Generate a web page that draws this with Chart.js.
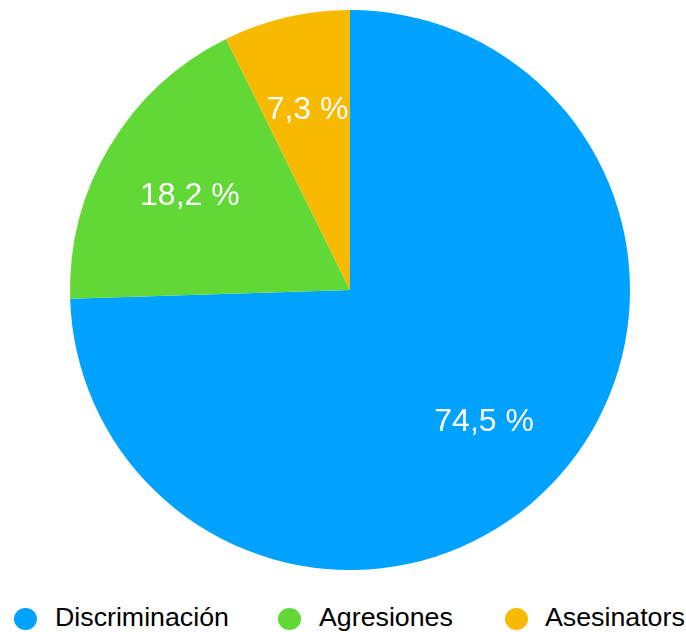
<!DOCTYPE html>
<html lang="es">
<head>
  <meta charset="UTF-8">
  <title>Distribución de casos</title>
  <script src="https://cdn.jsdelivr.net/npm/chart.js"></script>
  <style>
    body {
      margin: 0;
      background: #fff;
      font-family: "Liberation Sans", Arial, sans-serif;
    }
    .chart-box {
      position: relative;
      width: 686px;
      height: 580px;
    }
    #legend {
      position: absolute;
      top: 600px;
      left: 0;
      width: 686px;
      height: 32px;
    }
    .dot {
      position: absolute;
      top: 8px;
      width: 23px;
      height: 22px;
      border-radius: 50%;
    }
    .name {
      position: absolute;
      top: 0;
      font-size: 25px;
      line-height: 34px;
      color: #000;
      white-space: nowrap;
      transform: scaleX(1.07);
      transform-origin: left center;
    }
  </style>
</head>
<body>
  <div class="chart-box">
    <canvas id="pie-chart"></canvas>
  </div>
  <div id="legend"></div>
  <script>
    const categories = ['Discriminación', 'Agresiones', 'Asesinators'];
    const percentages = [74.5, 18.2, 7.3];
    const colors = ['#00A2FF', '#61D836', '#F8BA00'];
    // posición horizontal de cada entrada de la leyenda (punto, texto)
    const legendDotX = [14, 278, 505];
    const legendTextX = [55, 319, 545];

    // etiquetas de porcentaje dentro de cada sector
    const sliceLabels = {
      id: 'sliceLabels',
      afterDatasetsDraw(chart) {
        const ctx = chart.ctx;
        const meta = chart.getDatasetMeta(0);
        ctx.save();
        ctx.fillStyle = '#fff';
        ctx.font = '32px "Liberation Sans", Arial, sans-serif';
        ctx.textAlign = 'center';
        ctx.textBaseline = 'middle';
        meta.data.forEach((arc, i) => {
          const mid = (arc.startAngle + arc.endAngle) / 2;
          const r = arc.outerRadius * 0.667;
          const x = arc.x + Math.cos(mid) * r;
          const y = arc.y + Math.sin(mid) * r + 2;
          ctx.fillText(percentages[i].toFixed(1).replace('.', ',') + ' %', x, y);
        });
        ctx.restore();
      }
    };

    new Chart(document.getElementById('pie-chart'), {
      type: 'pie',
      data: {
        labels: categories,
        datasets: [{
          data: percentages,
          backgroundColor: colors,
          borderWidth: 0
        }]
      },
      options: {
        responsive: true,
        maintainAspectRatio: false,
        animation: false,
        layout: { padding: { top: 10, bottom: 10, left: 14, right: 0 } },
        plugins: {
          legend: { display: false },
          tooltip: { enabled: false }
        }
      },
      plugins: [sliceLabels]
    });

    const legend = document.getElementById('legend');
    categories.forEach((name, i) => {
      const dot = document.createElement('span');
      dot.className = 'dot';
      dot.style.left = legendDotX[i] + 'px';
      dot.style.background = colors[i];
      legend.appendChild(dot);
      const label = document.createElement('span');
      label.className = 'name';
      label.style.left = legendTextX[i] + 'px';
      label.textContent = name;
      legend.appendChild(label);
    });
  </script>
</body>
</html>
